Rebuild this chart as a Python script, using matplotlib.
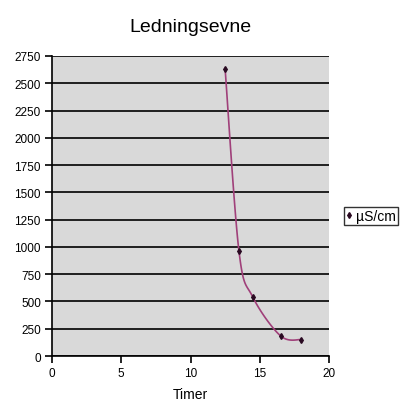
import matplotlib
matplotlib.use("Agg")
import matplotlib.pyplot as plt
import numpy as np

plt.rcParams["font.family"] = ["Liberation Sans", "DejaVu Sans"]

# målinger: tid (timer) og ledningsevne (µS/cm)
timer = [12.5, 13.5, 14.5, 16.5, 18.0]
ledningsevne = [2630, 960, 540, 185, 150]

x_ticks = [0, 5, 10, 15, 20]
y_ticks = list(range(0, 2751, 250))


def catmull_rom(x, y, n=30):
    # glatt kurve gjennom punktene, som Excel sin "utjevnet linje"
    px = np.concatenate([[x[0]], x, [x[-1]]]).astype(float)
    py = np.concatenate([[y[0]], y, [y[-1]]]).astype(float)
    xs, ys = [], []
    for i in range(1, len(px) - 2):
        t = np.linspace(0, 1, n)
        p0x, p1x, p2x, p3x = px[i - 1:i + 3]
        p0y, p1y, p2y, p3y = py[i - 1:i + 3]
        a = 1 / 6
        c1x, c1y = p1x + (p2x - p0x) * a, p1y + (p2y - p0y) * a
        c2x, c2y = p2x - (p3x - p1x) * a, p2y - (p3y - p1y) * a
        bx = (1 - t) ** 3 * p1x + 3 * (1 - t) ** 2 * t * c1x + 3 * (1 - t) * t ** 2 * c2x + t ** 3 * p2x
        by = (1 - t) ** 3 * p1y + 3 * (1 - t) ** 2 * t * c1y + 3 * (1 - t) * t ** 2 * c2y + t ** 3 * p2y
        xs.extend(bx)
        ys.extend(by)
    return np.array(xs), np.array(ys)


fig = plt.figure(figsize=(4.19, 4.14), dpi=100)
ax = fig.add_axes([52 / 419, 1 - 357 / 414, 277 / 419, 300 / 414])
ax.set_facecolor("#d9d9d9")

sx, sy = catmull_rom(timer, ledningsevne)
ax.plot(sx, sy, color="#a0407a", lw=1.2, zorder=3)
ax.plot(timer, ledningsevne, ls="none", marker="d", ms=3, color="#2a0a22", zorder=4)

ax.set_xlim(0, 20)
ax.set_ylim(0, 2750)
ax.set_xticks(x_ticks)
ax.set_yticks(y_ticks)
ax.grid(axis="y", color="black", lw=1.2)
ax.set_axisbelow(True)
for s in ["top", "right"]:
    ax.spines[s].set_visible(False)
for s in ["left", "bottom"]:
    ax.spines[s].set_linewidth(1.2)
ax.tick_params(direction="out", length=5, width=1.2, labelsize=8.5, pad=3)

ax.set_title("Ledningsevne", fontsize=14, pad=18)
ax.set_xlabel("Timer", fontsize=10, labelpad=6)

fig.legend(handles=[plt.Line2D([], [], ls="none", marker="d", ms=3, color="#2a0a22")],
           labels=["µS/cm"], loc="center left", bbox_to_anchor=(344 / 419, 1 - 217 / 414),
           frameon=True, fancybox=False, edgecolor="black", fontsize=10,
           handlelength=0.4, handletextpad=0.3, borderpad=0.15, borderaxespad=0)

fig.savefig("out.png", dpi=100)
